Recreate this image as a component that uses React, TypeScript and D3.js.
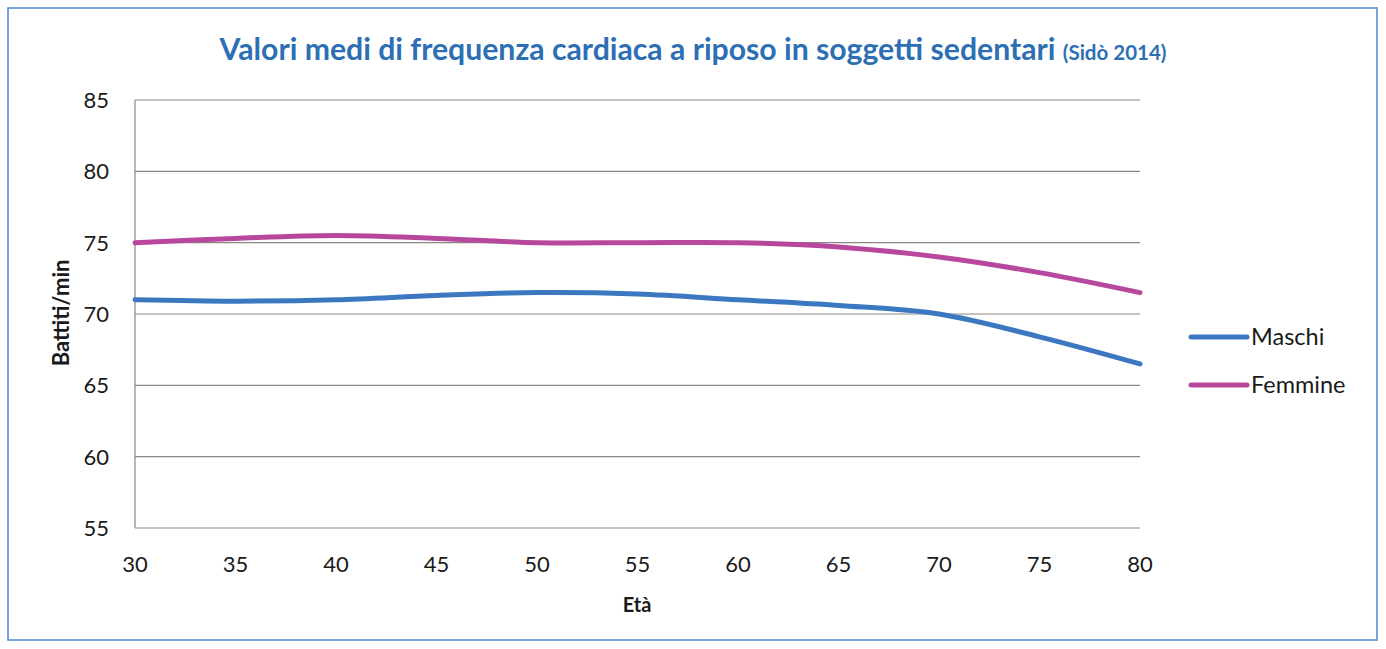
import React from "react";
import * as d3 from "d3";

const ages = [30, 35, 40, 45, 50, 55, 60, 65, 70, 75, 80];
const maschi = [71, 70.9, 71, 71.3, 71.5, 71.4, 71, 70.6, 70, 68.4, 66.5];
const femmine = [75, 75.3, 75.5, 75.3, 75, 75, 75, 74.7, 74, 72.9, 71.5];
const yTicks = [55, 60, 65, 70, 75, 80, 85];
const xTicks = [30, 35, 40, 45, 50, 55, 60, 65, 70, 75, 80];
const seriesNames = ["Maschi", "Femmine"];
const seriesColors = ["#3b78c1", "#b8479e"];

const W = 1386;
const H = 649;
const FONT = "Lato, 'Open Sans', 'Liberation Sans', sans-serif";

export default function App() {
  const x = d3.scaleLinear().domain([30, 80]).range([135, 1140]);
  const y = d3.scaleLinear().domain([55, 85]).range([528, 100]);
  const line = d3
    .line<number>()
    .x((_, i) => x(ages[i]))
    .y((d) => y(d))
    .curve(d3.curveCardinal.tension(0));
  const series = [maschi, femmine];

  return (
    <svg
      width={W}
      height={H}
      style={{ position: "absolute", left: 0, top: 0, background: "#fff" }}
      fontFamily={FONT}
    >
      <rect x={8} y={8} width={1369} height={632} fill="#fff" stroke="#4f86cc" strokeWidth={1.5} />
      <text x={693} y={60} textAnchor="middle" fill="#2d6fb4" fontWeight="bold" fontSize={30.2}>
        Valori medi di frequenza cardiaca a riposo in soggetti sedentari{" "}
        <tspan fontSize={20.5}>(Sidò 2014)</tspan>
      </text>
      {yTicks.map((t) => (
        <g key={t}>
          <line x1={x(30)} x2={x(80)} y1={y(t)} y2={y(t)} stroke="#8c8684" strokeWidth={1.2} />
          <text x={109} y={y(t) + 8} textAnchor="end" fontSize={22} fill="#1a1a1a">
            {t}
          </text>
        </g>
      ))}
      <line x1={x(30)} x2={x(30)} y1={y(85)} y2={y(55)} stroke="#8c8684" strokeWidth={1.2} />
      {xTicks.map((t) => (
        <text key={t} x={x(t)} y={572} textAnchor="middle" fontSize={22} fill="#1a1a1a">
          {t}
        </text>
      ))}
      <text x={637} y={612} textAnchor="middle" fontSize={20} fontWeight="bold" fill="#1a1a1a">
        Età
      </text>
      <text
        transform={`translate(69,313) rotate(-90)`}
        textAnchor="middle"
        fontSize={22}
        fontWeight="bold"
        fill="#1a1a1a"
      >
        Battiti/min
      </text>
      {series.map((s, i) => (
        <path
          key={i}
          d={line(s) || ""}
          fill="none"
          stroke={seriesColors[i]}
          strokeWidth={5}
          strokeLinecap="round"
        />
      ))}
      {seriesNames.map((n, i) => (
        <g key={n}>
          <line
            x1={1191}
            x2={1247}
            y1={337 + i * 48}
            y2={337 + i * 48}
            stroke={seriesColors[i]}
            strokeWidth={5}
            strokeLinecap="round"
          />
          <text x={1251} y={337 + i * 48 + 8} fontSize={23.5} fill="#1a1a1a">
            {n}
          </text>
        </g>
      ))}
    </svg>
  );
}
